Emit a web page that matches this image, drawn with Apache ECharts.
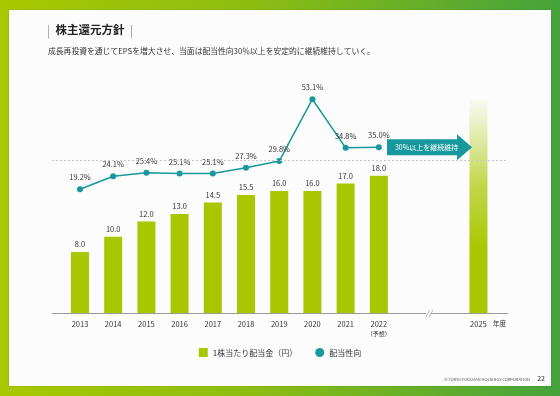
<!DOCTYPE html>
<html>
<head>
<meta charset="utf-8">
<script src="https://cdn.jsdelivr.net/npm/echarts@6/dist/echarts.min.js"></script>
<style>
  html, body { margin: 0; padding: 0; }
  body {
    width: 560px; height: 396px; position: relative; overflow: hidden;
    background: linear-gradient(90deg, #a9c800 0%, #8dbd12 45%, #45a33c 100%);
  }
  .panel {
    position: absolute; left: 9px; top: 10px; width: 542px; height: 376px;
    background: #fcfcfc; box-shadow: 0 0 2px rgba(0,0,0,0.15);
  }
  #chart { position: absolute; left: 0; top: 0; width: 560px; height: 396px; }
</style>
</head>
<body>
<div class="panel"></div>
<div id="chart"></div>
<script>
const years = [2013, 2014, 2015, 2016, 2017, 2018, 2019, 2020, 2021, 2022]
const dividend = [8.0, 10.0, 12.0, 13.0, 14.5, 15.5, 16.0, 16.0, 17.0, 18.0]
const payoutRatio = [19.2, 24.1, 25.4, 25.1, 25.1, 27.3, 29.8, 53.1, 34.8, 35.0]
const targetYear = 2025
const targetBar = 28
const payoutTarget = 30
const labelYears = [...years, targetYear]

const FONT = '"Noto Sans CJK JP", "Noto Sans", sans-serif'
const GREEN = '#a9c700'
const TEAL = '#16989d'

const chart = echarts.init(document.getElementById('chart'))

const barData = years.map((y, i) => [y, dividend[i]])
// 2025年度の目標バー（グラデーション）
barData.push({
  value: [targetYear, targetBar],
  label: { show: false },
  itemStyle: {
    color: new echarts.graphic.LinearGradient(0, 0, 0, 1, [
      { offset: 0, color: 'rgba(169, 199, 0, 0.03)' },
      { offset: 0.4, color: 'rgba(169, 199, 0, 0.7)' },
      { offset: 0.7, color: GREEN },
      { offset: 1, color: GREEN },
    ]),
  },
})

const option = {
  textStyle: { fontFamily: FONT },
  animation: false,
  title: [
    {
      text: '{bar||}  株主還元方針  {bar||}',
      left: 47,
      top: 24,
      padding: 0,
      textStyle: {
        fontSize: 11.5,
        fontWeight: 'bold',
        color: '#222',
        fontFamily: FONT,
        rich: { bar: { fontSize: 12, color: '#999', fontWeight: 'normal' } },
      },
    },
    {
      text: `成長再投資を通じてEPSを増大させ、当面は配当性向${payoutTarget}％以上を安定的に継続維持していく。`,
      left: 48,
      top: 47,
      padding: 0,
      textStyle: { fontSize: 7.8, fontWeight: 'normal', color: '#333', fontFamily: FONT },
    },
    {
      text: '© TOKYO FUDOSAN HOLDINGS CORPORATION',
      right: 30,
      top: 377,
      padding: 0,
      textStyle: { fontSize: 4, fontWeight: 'normal', color: '#555', fontFamily: FONT },
    },
    {
      text: '22',
      right: 15,
      top: 375,
      padding: 0,
      textStyle: { fontSize: 7, fontWeight: 'normal', color: '#333', fontFamily: FONT },
    },
  ],
  legend: {
    top: 343,
    left: 'center',
    itemWidth: 9,
    itemHeight: 9,
    itemGap: 18,
    textStyle: { fontSize: 8, color: '#333', fontFamily: FONT },
    data: [
      { name: '1株当たり配当金（円）', icon: 'rect' },
      { name: '配当性向', icon: 'circle', itemStyle: { color: TEAL } },
    ],
  },
  grid: { left: 52, right: 52, top: 69.2, bottom: 83 },
  xAxis: {
    type: 'value',
    min: 2012.157,
    max: 2025.89,
    splitLine: { show: false },
    axisTick: { show: false },
    axisLine: { show: true, lineStyle: { color: '#9a9a9a', width: 1 } },
    axisLabel: {
      customValues: labelYears,
      margin: 6,
      color: '#333',
      fontSize: 7.5,
      lineHeight: 10,
      formatter: (v) => (v === 2022 ? '2022\n{s|（予想）}' : String(v)),
      rich: { s: { fontSize: 6, color: '#333', lineHeight: 10 } },
    },
    name: '年度',
    nameLocation: 'end',
    nameGap: -15,
    nameTextStyle: { fontSize: 6.5, color: '#333', align: 'left', verticalAlign: 'top', padding: [7, 0, 0, 0] },
  },
  yAxis: [
    { type: 'value', min: 0, max: 32, show: false },
    { type: 'value', min: -27.4, max: 64.4, show: false },
  ],
  series: [
    {
      name: '1株当たり配当金（円）',
      type: 'bar',
      barWidth: 18,
      yAxisIndex: 0,
      itemStyle: { color: GREEN },
      label: {
        show: true,
        position: 'top',
        distance: 4,
        fontSize: 7.5,
        color: '#333',
        formatter: (p) => p.value[1].toFixed(1),
      },
      data: barData,
      markPoint: {
        silent: true,
        symbol: 'rect',
        symbolSize: [5, 9],
        itemStyle: { color: '#fcfcfc' },
        label: { show: true, position: 'inside', formatter: '//', fontSize: 8, color: '#888', fontStyle: 'italic' },
        data: [{ coord: [2023.5, 0] }],
      },
    },
    {
      name: '配当性向',
      type: 'line',
      yAxisIndex: 1,
      symbol: 'circle',
      symbolSize: 6,
      lineStyle: { color: TEAL, width: 1.5 },
      itemStyle: { color: TEAL },
      label: {
        show: true,
        position: 'top',
        distance: 5,
        fontSize: 7.5,
        color: '#333',
        formatter: (p) => p.value[1].toFixed(1) + '%',
      },
      data: years.map((y, i) => [y, payoutRatio[i]]),
      markLine: {
        silent: true,
        symbol: 'none',
        label: { show: false },
        lineStyle: { color: '#c8c8c8', type: [2, 2], width: 1 },
        data: [{ yAxis: payoutTarget }],
      },
      markPoint: {
        silent: true,
        symbol: 'path://M0,5 L70,5 L70,0 L85,13 L70,26 L70,21 L0,21 Z',
        symbolSize: [85, 26],
        symbolKeepAspect: false,
        itemStyle: { color: TEAL },
        label: {
          show: true,
          position: 'inside',
          offset: [-3, 0],
          formatter: `${payoutTarget}%以上を継続維持`,
          fontSize: 7,
          color: '#fff',
        },
        data: [{ coord: [2023.527, 35] }],
      },
    },
  ],
}

chart.setOption(option)
</script>
</body>
</html>
